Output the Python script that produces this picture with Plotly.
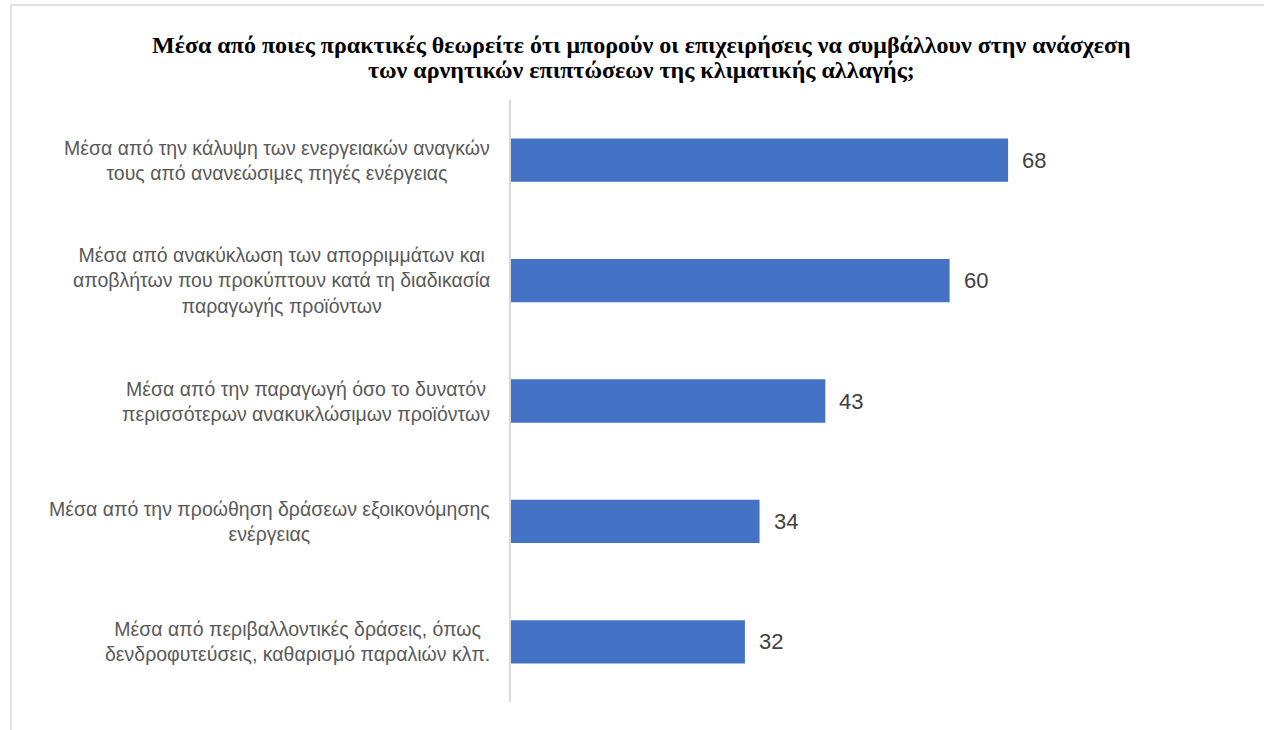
import plotly.graph_objects as go

# Survey answers (top to bottom) and number of responses
categories = [
    "Μέσα από την κάλυψη των ενεργειακών αναγκών<br>τους από ανανεώσιμες πηγές ενέργειας",
    "Μέσα από ανακύκλωση των απορριμμάτων και<br>αποβλήτων που προκύπτουν κατά τη διαδικασία<br>παραγωγής προϊόντων",
    "Μέσα από την παραγωγή όσο το δυνατόν<br>περισσότερων ανακυκλώσιμων προϊόντων",
    "Μέσα από την προώθηση δράσεων εξοικονόμησης<br>ενέργειας",
    "Μέσα από περιβαλλοντικές δράσεις, όπως<br>δενδροφυτεύσεις, καθαρισμό παραλιών κλπ.",
]
values = [68, 60, 43, 34, 32]

title_lines = [
    "Μέσα από ποιες πρακτικές θεωρείτε ότι μπορούν οι επιχειρήσεις να συμβάλλουν στην ανάσχεση",
    "των αρνητικών επιπτώσεων της κλιματικής αλλαγής;",
]

W, H = 1264, 730
L, R, T, B = 511, 22, 100, 28
pw, ph = W - L - R, H - T - B


def py(ypix):
    """Convert a page y pixel into paper coordinates."""
    return (H - B - ypix) / ph


def px(xpix):
    """Convert a page x pixel into paper coordinates."""
    return (xpix - L) / pw


label_font = dict(family="Liberation Sans, Arial, sans-serif", size=19.5, color="#595959")

fig = go.Figure(
    go.Bar(
        x=values,
        y=categories,
        orientation="h",
        marker=dict(color="#4472C4", line=dict(width=0)),
        hoverinfo="x+y",
    )
)

annotations = []
# chart title, one annotation per line for tight line spacing
for i, line in enumerate(title_lines):
    annotations.append(dict(
        x=px(641), xref="paper", y=py(45 + 25 * i), yref="paper",
        text=f"<b>{line}</b>", showarrow=False, xanchor="center", yanchor="middle",
        font=dict(family="Liberation Serif, Times New Roman, serif", size=24, color="#000000"),
    ))
# category labels, centred multi-line text to the left of the axis
for cat in categories:
    annotations.append(dict(
        x=0, xref="paper", y=cat, yref="y", text=cat, showarrow=False,
        xanchor="right", yanchor="middle", align="center", xshift=-19,
        font=label_font,
    ))
# value labels at the end of each bar
for cat, v in zip(categories, values):
    annotations.append(dict(
        x=v, xref="x", y=cat, yref="y", text=str(v), showarrow=False,
        xanchor="left", yanchor="middle", xshift=12,
        font=dict(family="Liberation Sans, Arial, sans-serif", size=22, color="#404040"),
    ))

# light frame around the chart area
fig.update_layout(
    width=W, height=H,
    margin=dict(l=L, r=R, t=T, b=B),
    paper_bgcolor="white", plot_bgcolor="white",
    showlegend=False,
    bargap=0.64,
    xaxis=dict(range=[0, 100], visible=False, fixedrange=True),
    yaxis=dict(
        autorange="reversed", showticklabels=False, ticks="",
        showline=True, linecolor="#d9d9d9", linewidth=2, showgrid=False,
        zeroline=False,
    ),
    annotations=annotations,
    shapes=[dict(
        type="rect", xref="paper", yref="paper",
        x0=px(11), x1=px(W + 10), y0=py(H + 10), y1=py(5),
        line=dict(color="#d9d9d9", width=1.5), fillcolor="rgba(0,0,0,0)", layer="below",
    )],
)

fig.write_html("out.html")
